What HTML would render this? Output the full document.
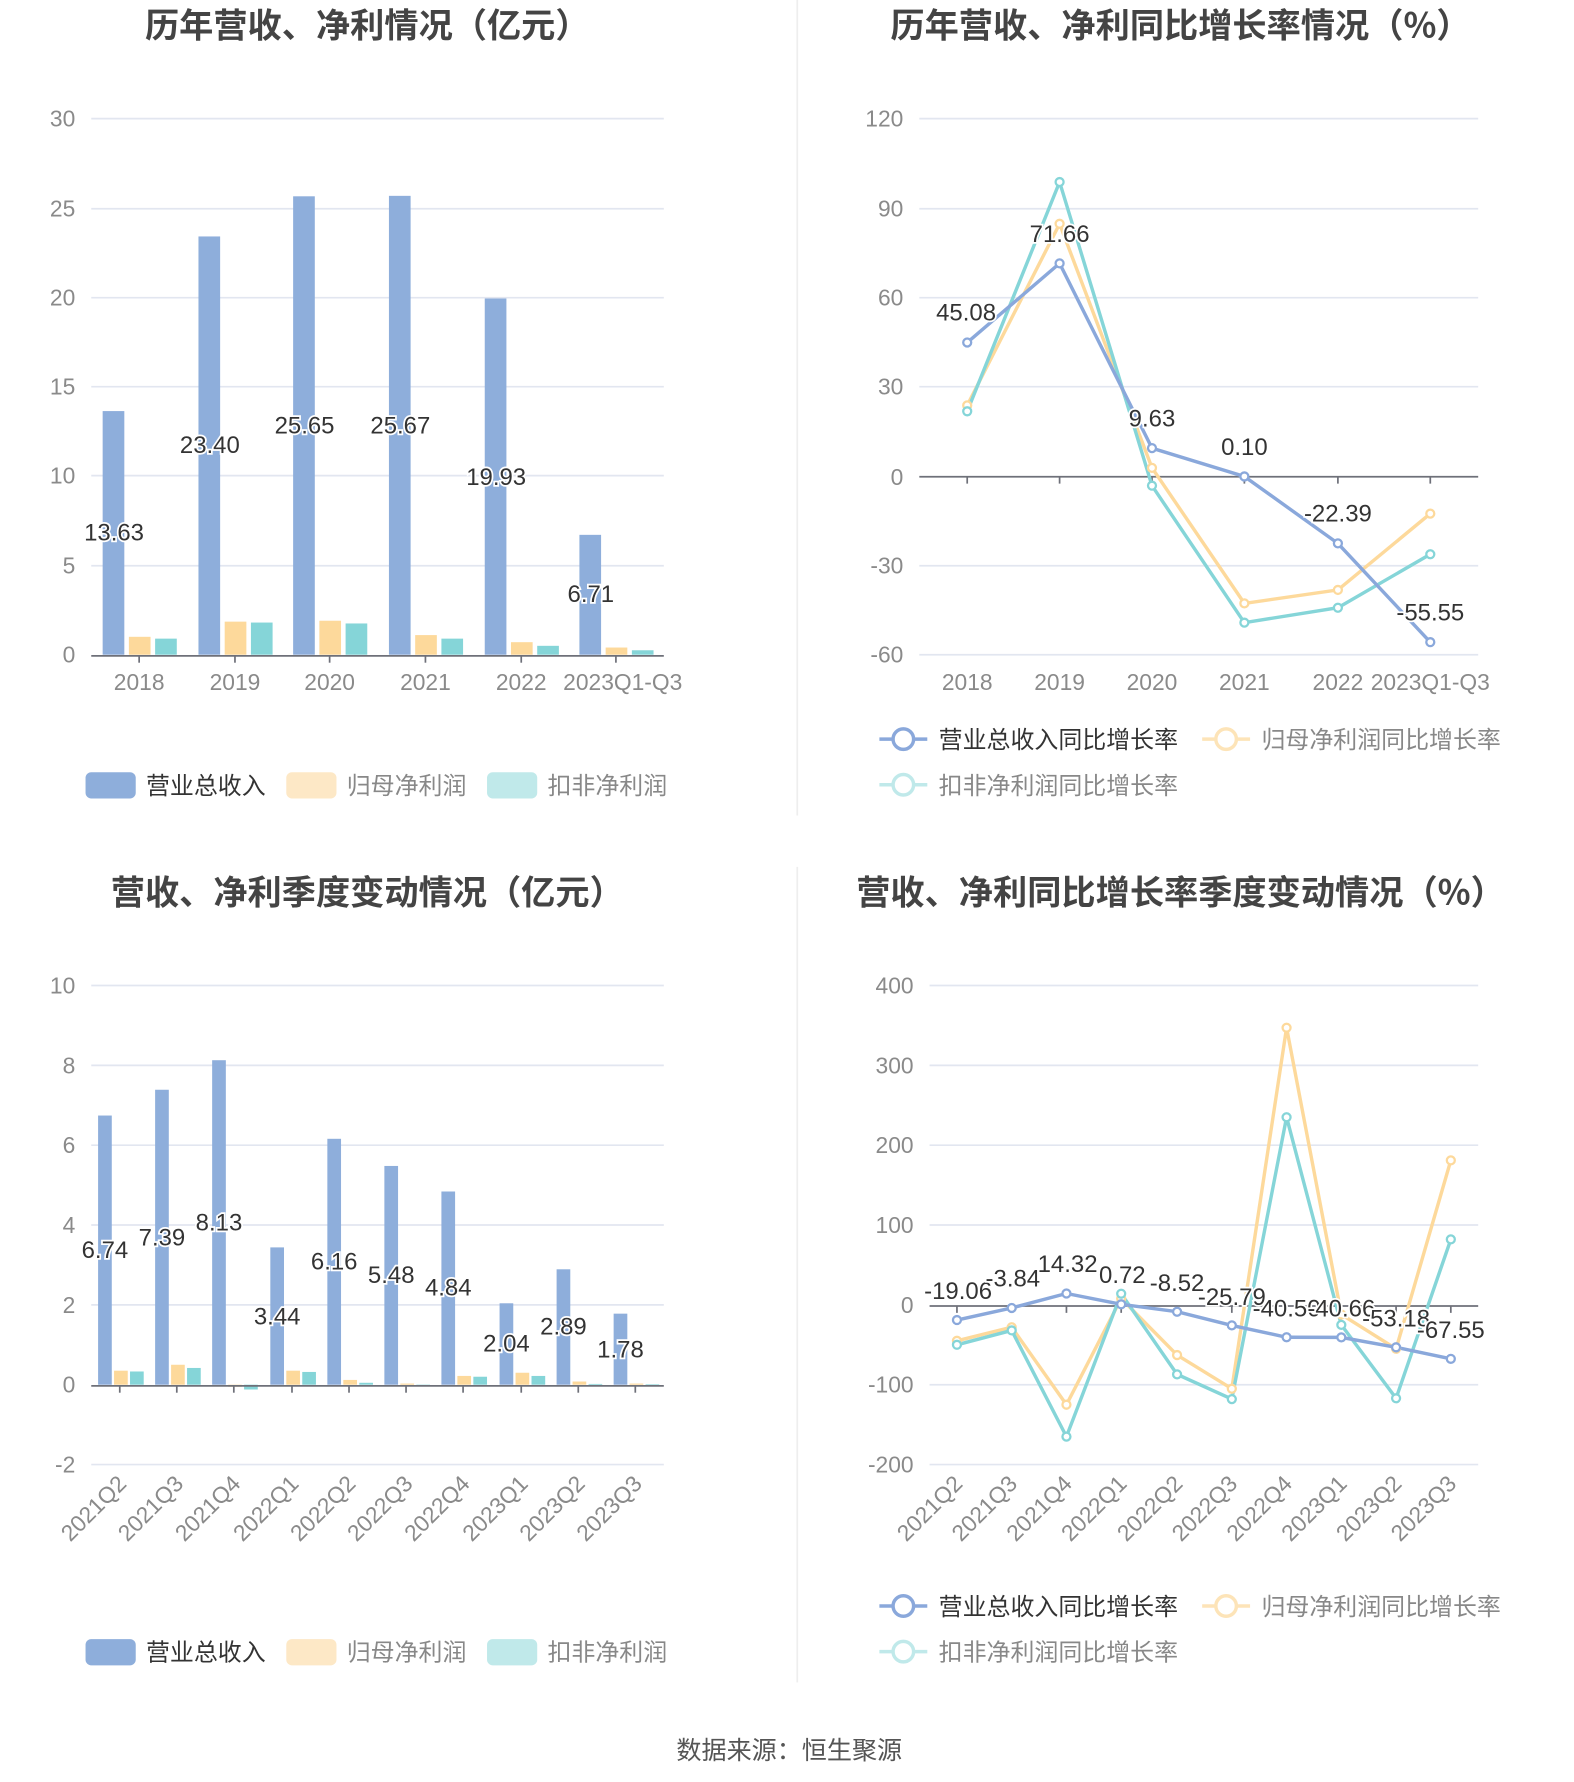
<!DOCTYPE html>
<html><head><meta charset="utf-8"><style>
html,body{margin:0;padding:0;background:#fff}
svg{display:block}
text{font-family:"Liberation Sans","Noto Sans CJK SC",sans-serif}
.t{font-size:30px;font-weight:bold;fill:#444;text-anchor:middle;font-family:"Noto Sans CJK SC","Liberation Sans",sans-serif}
.ax{font-size:20px;fill:#8a8a8a}
.yl{text-anchor:end}
.xl{text-anchor:middle}
.lb{font-size:21px;fill:#333;text-anchor:middle;stroke:#fff;stroke-width:3;paint-order:stroke}
.g{stroke:#e2e6f0;stroke-width:1.5}
.lg{font-size:21px;fill:#888}
.dot{fill:#fff;stroke-width:2}
</style></head><body>
<svg width="1574" height="1782" viewBox="0 0 1380 1562.3" preserveAspectRatio="none" xmlns="http://www.w3.org/2000/svg">
<rect width="1380" height="1563" fill="#fff"/>
<line x1="699" y1="0" x2="699" y2="715" stroke="#eee" stroke-width="1.5"/>
<line x1="699" y1="760" x2="699" y2="1475" stroke="#eee" stroke-width="1.5"/>

<!-- ===== Chart 1 ===== -->
<text class="t" x="322" y="33">历年营收、净利情况（亿元）</text>
<g class="g">
<line x1="80" y1="104" x2="582" y2="104"/><line x1="80" y1="183" x2="582" y2="183"/><line x1="80" y1="261" x2="582" y2="261"/><line x1="80" y1="339" x2="582" y2="339"/><line x1="80" y1="417" x2="582" y2="417"/><line x1="80" y1="496" x2="582" y2="496"/>
</g>
<g class="ax yl"><text x="66" y="111">30</text><text x="66" y="190">25</text><text x="66" y="268">20</text><text x="66" y="346">15</text><text x="66" y="424">10</text><text x="66" y="503">5</text><text x="66" y="581">0</text></g>
<g fill="#8eaedb">
<rect x="90" y="360.4" width="19" height="213.6"/><rect x="174" y="207.3" width="19" height="366.7"/><rect x="257" y="172.1" width="19" height="401.9"/><rect x="341" y="171.7" width="19" height="402.3"/><rect x="425" y="261.7" width="19" height="312.3"/><rect x="508" y="468.9" width="19" height="105.1"/>
</g>
<g fill="#fdd99b">
<rect x="113" y="558.3" width="19" height="15.7"/><rect x="197" y="545" width="19" height="29"/><rect x="280" y="544.2" width="19" height="29.8"/><rect x="364" y="556.8" width="19" height="17.2"/><rect x="448" y="563" width="19" height="11"/><rect x="531" y="567.7" width="19" height="6.3"/>
</g>
<g fill="#85d5d8">
<rect x="136" y="559.9" width="19" height="14.1"/><rect x="220" y="545.8" width="19" height="28.2"/><rect x="303" y="546.6" width="19" height="27.4"/><rect x="387" y="559.9" width="19" height="14.1"/><rect x="471" y="566.2" width="19" height="7.8"/><rect x="554" y="570.1" width="19" height="3.9"/>
</g>
<line x1="80" y1="575" x2="582" y2="575" stroke="#6e7079" stroke-width="1.5"/>
<g stroke="#6e7079" stroke-width="1.5"><line x1="122" y1="575" x2="122" y2="581"/><line x1="206" y1="575" x2="206" y2="581"/><line x1="289" y1="575" x2="289" y2="581"/><line x1="373" y1="575" x2="373" y2="581"/><line x1="457" y1="575" x2="457" y2="581"/><line x1="540" y1="575" x2="540" y2="581"/></g>
<g class="lb"><text x="100" y="474">13.63</text><text x="184" y="397">23.40</text><text x="267" y="380">25.65</text><text x="351" y="380">25.67</text><text x="435" y="425">19.93</text><text x="518" y="528">6.71</text></g>
<g class="ax xl"><text x="122" y="605">2018</text><text x="206" y="605">2019</text><text x="289" y="605">2020</text><text x="373" y="605">2021</text><text x="457" y="605">2022</text><text x="546" y="605">2023Q1-Q3</text></g>
<rect x="75" y="677" width="44" height="23" rx="5" fill="#8eaedb"/><text class="lg" x="128" y="696" style="fill:#333">营业总收入</text>
<rect x="251" y="677" width="44" height="23" rx="5" fill="#fde8c6"/><text class="lg" x="304" y="696">归母净利润</text>
<rect x="427" y="677" width="44" height="23" rx="5" fill="#c0e9ea"/><text class="lg" x="480" y="696">扣非净利润</text>

<!-- ===== Chart 2 ===== -->
<text class="t" x="1035" y="33">历年营收、净利同比增长率情况（%）</text>
<g class="g">
<line x1="806" y1="104" x2="1296" y2="104"/><line x1="806" y1="183" x2="1296" y2="183"/><line x1="806" y1="261" x2="1296" y2="261"/><line x1="806" y1="339" x2="1296" y2="339"/><line x1="806" y1="496" x2="1296" y2="496"/><line x1="806" y1="574" x2="1296" y2="574"/>
</g>
<g class="ax yl"><text x="792" y="111">120</text><text x="792" y="190">90</text><text x="792" y="268">60</text><text x="792" y="346">30</text><text x="792" y="425">0</text><text x="792" y="503">-30</text><text x="792" y="581">-60</text></g>
<line x1="806" y1="418" x2="1296" y2="418" stroke="#6e7079" stroke-width="1.5"/>
<g stroke="#6e7079" stroke-width="1.5"><line x1="848" y1="418" x2="848" y2="424"/><line x1="929" y1="418" x2="929" y2="424"/><line x1="1010" y1="418" x2="1010" y2="424"/><line x1="1091" y1="418" x2="1091" y2="424"/><line x1="1173" y1="418" x2="1173" y2="424"/><line x1="1254" y1="418" x2="1254" y2="424"/></g>
<polyline fill="none" stroke="#fdd99b" stroke-width="3" points="848,355.4 929,196.2 1010,410.2 1091,529 1173,517.2 1254,450.3"/>
<polyline fill="none" stroke="#85d5d8" stroke-width="3" points="848,360.6 929,159.6 1010,425.8 1091,545.9 1173,532.8 1254,485.9"/>
<polyline fill="none" stroke="#8aa8db" stroke-width="3" points="848,300.3 929,230.9 1010,392.9 1091,417.7 1173,476.4 1254,563"/>
<g class="dot" stroke="#fdd99b"><circle cx="848" cy="355.4" r="3.5"/><circle cx="929" cy="196.2" r="3.5"/><circle cx="1010" cy="410.2" r="3.5"/><circle cx="1091" cy="529" r="3.5"/><circle cx="1173" cy="517.2" r="3.5"/><circle cx="1254" cy="450.3" r="3.5"/></g>
<g class="dot" stroke="#85d5d8"><circle cx="848" cy="360.6" r="3.5"/><circle cx="929" cy="159.6" r="3.5"/><circle cx="1010" cy="425.8" r="3.5"/><circle cx="1091" cy="545.9" r="3.5"/><circle cx="1173" cy="532.8" r="3.5"/><circle cx="1254" cy="485.9" r="3.5"/></g>
<g class="dot" stroke="#8aa8db"><circle cx="848" cy="300.3" r="3.5"/><circle cx="929" cy="230.9" r="3.5"/><circle cx="1010" cy="392.9" r="3.5"/><circle cx="1091" cy="417.7" r="3.5"/><circle cx="1173" cy="476.4" r="3.5"/><circle cx="1254" cy="563" r="3.5"/></g>
<g class="lb"><text x="847" y="281">45.08</text><text x="929" y="212">71.66</text><text x="1010" y="374">9.63</text><text x="1091" y="399">0.10</text><text x="1173" y="457">-22.39</text><text x="1254" y="544">-55.55</text></g>
<g class="ax xl"><text x="848" y="605">2018</text><text x="929" y="605">2019</text><text x="1010" y="605">2020</text><text x="1091" y="605">2021</text><text x="1173" y="605">2022</text><text x="1254" y="605">2023Q1-Q3</text></g>
<line x1="771" y1="648" x2="813" y2="648" stroke="#8aa8db" stroke-width="3"/><circle cx="792" cy="648" r="9" fill="#fff" stroke="#8aa8db" stroke-width="3"/><text class="lg" x="823" y="656" style="fill:#333">营业总收入同比增长率</text>
<line x1="1054" y1="648" x2="1096" y2="648" stroke="#fde4b8" stroke-width="3"/><circle cx="1075" cy="648" r="9" fill="#fff" stroke="#fde4b8" stroke-width="3"/><text class="lg" x="1106" y="656">归母净利润同比增长率</text>
<line x1="771" y1="688" x2="813" y2="688" stroke="#c0e9ea" stroke-width="3"/><circle cx="792" cy="688" r="9" fill="#fff" stroke="#c0e9ea" stroke-width="3"/><text class="lg" x="823" y="696">扣非净利润同比增长率</text>

<!-- ===== Chart 3 ===== -->
<text class="t" x="322" y="793">营收、净利季度变动情况（亿元）</text>
<g class="g">
<line x1="80" y1="864" x2="582" y2="864"/><line x1="80" y1="934" x2="582" y2="934"/><line x1="80" y1="1004" x2="582" y2="1004"/><line x1="80" y1="1074" x2="582" y2="1074"/><line x1="80" y1="1144" x2="582" y2="1144"/><line x1="80" y1="1284" x2="582" y2="1284"/>
</g>
<g class="ax yl"><text x="66" y="871">10</text><text x="66" y="941">8</text><text x="66" y="1011">6</text><text x="66" y="1081">4</text><text x="66" y="1151">2</text><text x="66" y="1221">0</text><text x="66" y="1291">-2</text></g>
<g fill="#8eaedb">
<rect x="86" y="978" width="12" height="236"/><rect x="136" y="955.4" width="12" height="258.6"/><rect x="186" y="929.5" width="12" height="284.5"/><rect x="237" y="1093.6" width="12" height="120.4"/><rect x="287" y="998.4" width="12" height="215.6"/><rect x="337" y="1022.2" width="12" height="191.8"/><rect x="387" y="1044.6" width="12" height="169.4"/><rect x="438" y="1142.6" width="12" height="71.4"/><rect x="488" y="1112.8" width="12" height="101.2"/><rect x="538" y="1151.7" width="12" height="62.3"/>
</g>
<g fill="#fdd99b">
<rect x="100" y="1201.7" width="12" height="12.3"/><rect x="150" y="1196.5" width="12" height="17.5"/><rect x="200" y="1214" width="12" height="1.8"/><rect x="251" y="1201.7" width="12" height="12.3"/><rect x="301" y="1209.8" width="12" height="4.2"/><rect x="351" y="1213" width="12" height="1"/><rect x="401" y="1206.3" width="12" height="7.7"/><rect x="452" y="1203.5" width="12" height="10.5"/><rect x="502" y="1211.2" width="12" height="2.8"/><rect x="552" y="1213" width="12" height="1"/>
</g>
<g fill="#85d5d8">
<rect x="114" y="1202.4" width="12" height="11.6"/><rect x="164" y="1199.3" width="12" height="14.7"/><rect x="214" y="1214" width="12" height="4.2"/><rect x="265" y="1202.8" width="12" height="11.2"/><rect x="315" y="1212.3" width="12" height="1.7"/><rect x="365" y="1214" width="12" height="1"/><rect x="415" y="1207" width="12" height="7"/><rect x="466" y="1206.3" width="12" height="7.7"/><rect x="516" y="1213.3" width="12" height="0.7"/><rect x="566" y="1213.5" width="12" height="0.5"/>
</g>
<line x1="80" y1="1215" x2="582" y2="1215" stroke="#6e7079" stroke-width="1.5"/>
<g stroke="#6e7079" stroke-width="1.5"><line x1="105" y1="1215" x2="105" y2="1221"/><line x1="155" y1="1215" x2="155" y2="1221"/><line x1="205" y1="1215" x2="205" y2="1221"/><line x1="256" y1="1215" x2="256" y2="1221"/><line x1="306" y1="1215" x2="306" y2="1221"/><line x1="356" y1="1215" x2="356" y2="1221"/><line x1="406" y1="1215" x2="406" y2="1221"/><line x1="457" y1="1215" x2="457" y2="1221"/><line x1="507" y1="1215" x2="507" y2="1221"/><line x1="557" y1="1215" x2="557" y2="1221"/></g>
<g class="lb"><text x="92" y="1103">6.74</text><text x="142" y="1092">7.39</text><text x="192" y="1079">8.13</text><text x="243" y="1161">3.44</text><text x="293" y="1113">6.16</text><text x="343" y="1125">5.48</text><text x="393" y="1136">4.84</text><text x="444" y="1185">2.04</text><text x="494" y="1170">2.89</text><text x="544" y="1190">1.78</text></g>
<g class="ax" text-anchor="end">
<text transform="translate(112,1302) rotate(-45)">2021Q2</text><text transform="translate(162,1302) rotate(-45)">2021Q3</text><text transform="translate(212,1302) rotate(-45)">2021Q4</text><text transform="translate(263,1302) rotate(-45)">2022Q1</text><text transform="translate(313,1302) rotate(-45)">2022Q2</text><text transform="translate(363,1302) rotate(-45)">2022Q3</text><text transform="translate(413,1302) rotate(-45)">2022Q4</text><text transform="translate(464,1302) rotate(-45)">2023Q1</text><text transform="translate(514,1302) rotate(-45)">2023Q2</text><text transform="translate(564,1302) rotate(-45)">2023Q3</text>
</g>
<rect x="75" y="1437" width="44" height="23" rx="5" fill="#8eaedb"/><text class="lg" x="128" y="1456" style="fill:#333">营业总收入</text>
<rect x="251" y="1437" width="44" height="23" rx="5" fill="#fde8c6"/><text class="lg" x="304" y="1456">归母净利润</text>
<rect x="427" y="1437" width="44" height="23" rx="5" fill="#c0e9ea"/><text class="lg" x="480" y="1456">扣非净利润</text>

<!-- ===== Chart 4 ===== -->
<text class="t" x="1035" y="793">营收、净利同比增长率季度变动情况（%）</text>
<g class="g">
<line x1="815" y1="864" x2="1296" y2="864"/><line x1="815" y1="934" x2="1296" y2="934"/><line x1="815" y1="1004" x2="1296" y2="1004"/><line x1="815" y1="1074" x2="1296" y2="1074"/><line x1="815" y1="1214" x2="1296" y2="1214"/><line x1="815" y1="1284" x2="1296" y2="1284"/>
</g>
<g class="ax yl"><text x="801" y="871">400</text><text x="801" y="941">300</text><text x="801" y="1011">200</text><text x="801" y="1081">100</text><text x="801" y="1151">0</text><text x="801" y="1221">-100</text><text x="801" y="1291">-200</text></g>
<line x1="815" y1="1145" x2="1296" y2="1145" stroke="#6e7079" stroke-width="1.5"/>
<g stroke="#6e7079" stroke-width="1.5"><line x1="839" y1="1145" x2="839" y2="1151"/><line x1="887" y1="1145" x2="887" y2="1151"/><line x1="935" y1="1145" x2="935" y2="1151"/><line x1="983" y1="1145" x2="983" y2="1151"/><line x1="1032" y1="1145" x2="1032" y2="1151"/><line x1="1080" y1="1145" x2="1080" y2="1151"/><line x1="1128" y1="1145" x2="1128" y2="1151"/><line x1="1176" y1="1145" x2="1176" y2="1151"/><line x1="1224" y1="1145" x2="1224" y2="1151"/><line x1="1272" y1="1145" x2="1272" y2="1151"/></g>
<polyline fill="none" stroke="#fdd99b" stroke-width="3" points="839,1175.5 887,1163.6 935,1231.5 983,1138.4 1032,1188 1080,1217.5 1128,901 1176,1152.4 1224,1182.5 1272,1017.3"/>
<polyline fill="none" stroke="#85d5d8" stroke-width="3" points="839,1179 887,1166.4 935,1259.5 983,1134.2 1032,1204.9 1080,1226.6 1128,979.5 1176,1161.5 1224,1225.9 1272,1086.6"/>
<polyline fill="none" stroke="#8aa8db" stroke-width="3" points="839,1157.3 887,1146.7 935,1134 983,1143.5 1032,1150 1080,1162 1128,1172.4 1176,1172.5 1224,1181.2 1272,1191.3"/>
<g class="dot" stroke="#fdd99b"><circle cx="839" cy="1175.5" r="3.5"/><circle cx="887" cy="1163.6" r="3.5"/><circle cx="935" cy="1231.5" r="3.5"/><circle cx="983" cy="1138.4" r="3.5"/><circle cx="1032" cy="1188" r="3.5"/><circle cx="1080" cy="1217.5" r="3.5"/><circle cx="1128" cy="901" r="3.5"/><circle cx="1176" cy="1152.4" r="3.5"/><circle cx="1224" cy="1182.5" r="3.5"/><circle cx="1272" cy="1017.3" r="3.5"/></g>
<g class="dot" stroke="#85d5d8"><circle cx="839" cy="1179" r="3.5"/><circle cx="887" cy="1166.4" r="3.5"/><circle cx="935" cy="1259.5" r="3.5"/><circle cx="983" cy="1134.2" r="3.5"/><circle cx="1032" cy="1204.9" r="3.5"/><circle cx="1080" cy="1226.6" r="3.5"/><circle cx="1128" cy="979.5" r="3.5"/><circle cx="1176" cy="1161.5" r="3.5"/><circle cx="1224" cy="1225.9" r="3.5"/><circle cx="1272" cy="1086.6" r="3.5"/></g>
<g class="dot" stroke="#8aa8db"><circle cx="839" cy="1157.3" r="3.5"/><circle cx="887" cy="1146.7" r="3.5"/><circle cx="935" cy="1134" r="3.5"/><circle cx="983" cy="1143.5" r="3.5"/><circle cx="1032" cy="1150" r="3.5"/><circle cx="1080" cy="1162" r="3.5"/><circle cx="1128" cy="1172.4" r="3.5"/><circle cx="1176" cy="1172.5" r="3.5"/><circle cx="1224" cy="1181.2" r="3.5"/><circle cx="1272" cy="1191.3" r="3.5"/></g>
<g class="lb"><text x="840" y="1139">-19.06</text><text x="888" y="1128">-3.84</text><text x="936" y="1115">14.32</text><text x="984" y="1125">0.72</text><text x="1032" y="1132">-8.52</text><text x="1080" y="1144">-25.79</text><text x="1128" y="1154">-40.50</text><text x="1176" y="1154">-40.66</text><text x="1224" y="1163">-53.18</text><text x="1272" y="1173">-67.55</text></g>
<g class="ax" text-anchor="end">
<text transform="translate(845,1302) rotate(-45)">2021Q2</text><text transform="translate(893,1302) rotate(-45)">2021Q3</text><text transform="translate(941,1302) rotate(-45)">2021Q4</text><text transform="translate(989,1302) rotate(-45)">2022Q1</text><text transform="translate(1038,1302) rotate(-45)">2022Q2</text><text transform="translate(1086,1302) rotate(-45)">2022Q3</text><text transform="translate(1134,1302) rotate(-45)">2022Q4</text><text transform="translate(1182,1302) rotate(-45)">2023Q1</text><text transform="translate(1230,1302) rotate(-45)">2023Q2</text><text transform="translate(1278,1302) rotate(-45)">2023Q3</text>
</g>
<line x1="771" y1="1408" x2="813" y2="1408" stroke="#8aa8db" stroke-width="3"/><circle cx="792" cy="1408" r="9" fill="#fff" stroke="#8aa8db" stroke-width="3"/><text class="lg" x="823" y="1416" style="fill:#333">营业总收入同比增长率</text>
<line x1="1054" y1="1408" x2="1096" y2="1408" stroke="#fde4b8" stroke-width="3"/><circle cx="1075" cy="1408" r="9" fill="#fff" stroke="#fde4b8" stroke-width="3"/><text class="lg" x="1106" y="1416">归母净利润同比增长率</text>
<line x1="771" y1="1448" x2="813" y2="1448" stroke="#c0e9ea" stroke-width="3"/><circle cx="792" cy="1448" r="9" fill="#fff" stroke="#c0e9ea" stroke-width="3"/><text class="lg" x="823" y="1456">扣非净利润同比增长率</text>

<text x="692" y="1542" text-anchor="middle" style="font-size:22px;fill:#555">数据来源：恒生聚源</text>
</svg>
</body></html>
